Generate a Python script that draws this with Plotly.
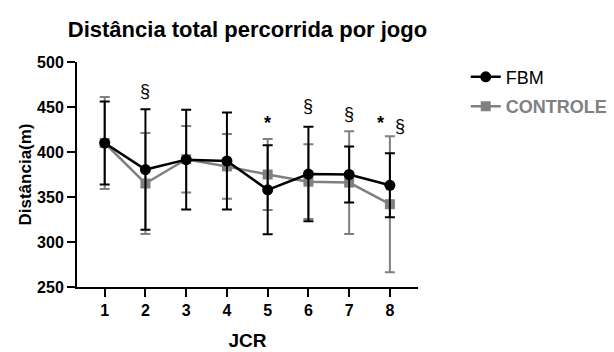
import plotly.graph_objects as go

jcr = [1, 2, 3, 4, 5, 6, 7, 8]
fbm_mean = [410, 380.5, 391.5, 390, 358, 375.5, 375, 363]
fbm_sd = [46, 67, 55.5, 54, 49.5, 52.5, 31, 35.5]
ctrl_mean = [410, 365, 392, 384, 375, 367, 366, 342]
ctrl_sd = [51, 56, 37, 36, 39.5, 41.5, 57, 75.5]
y_ticks = [250, 300, 350, 400, 450, 500]

# significance marks: (x, y, symbol)
marks_x = [2, 5, 6, 7, 7.77, 8.25]
marks_y = [468, 432, 451, 442, 432, 429]
marks_t = ["§", "<b>*</b>", "§", "§", "<b>*</b>", "§"]

FONT = "Liberation Sans, Arial, sans-serif"
GRAY = "#808080"

fig = go.Figure()
fig.add_trace(go.Scatter(
    x=jcr, y=ctrl_mean, mode="lines+markers",
    name='<span style="color:#808080"><b>CONTROLE</b></span>',
    legendgroup="c", legendrank=2,
    line=dict(color=GRAY, width=2.5),
    marker=dict(symbol="square", size=10, color=GRAY),
    error_y=dict(type="data", array=ctrl_sd, visible=True, color=GRAY, thickness=2, width=5),
))
fig.add_trace(go.Scatter(
    x=jcr, y=fbm_mean, mode="lines+markers", name="FBM",
    legendgroup="f", legendrank=1,
    line=dict(color="black", width=2.5),
    marker=dict(symbol="circle", size=11, color="black"),
    error_y=dict(type="data", array=fbm_sd, visible=True, color="black", thickness=2, width=5),
))

for x, y, t in zip(marks_x, marks_y, marks_t):
    fig.add_annotation(x=x, y=y, text=t, showarrow=False, xref="x", yref="y",
                       font=dict(family=FONT, size=18, color="black"))

fig.update_layout(
    width=614, height=352,
    margin=dict(l=77, r=196, t=62, b=65, autoexpand=False),
    paper_bgcolor="white", plot_bgcolor="white",
    font=dict(family=FONT, color="black"),
    title=dict(text="<b>Distância total percorrida por jogo</b>", x=(68 + 427) / 2 / 614, xanchor="center",
               xref="container",
               y=1 - 29 / 352, yanchor="middle", yref="container", font=dict(size=22, family=FONT),
               automargin=False),
    showlegend=True,
    legend=dict(x=1.14, xanchor="left", y=1.015, yanchor="top", traceorder="grouped",
                tracegroupgap=3, font=dict(size=18, family=FONT), bgcolor="rgba(0,0,0,0)"),
)
fig.update_xaxes(
    range=[0.32, 8.69], tickvals=jcr, ticktext=[f"<b>{v}</b>" for v in jcr],
    showgrid=False, zeroline=False, showline=True, linecolor="black", linewidth=2,
    ticks="outside", ticklen=8, tickwidth=2, tickcolor="black",
    tickfont=dict(size=16, family=FONT), automargin=False,
    title=dict(text="<b>JCR</b>", font=dict(size=19, family=FONT), standoff=15),
)
fig.update_yaxes(
    range=[250, 500], tickvals=y_ticks, ticktext=[f"<b>{v}</b>" for v in y_ticks],
    showgrid=False, zeroline=False, showline=True, linecolor="black", linewidth=2,
    ticks="outside", ticklen=8, tickwidth=2, tickcolor="black",
    tickfont=dict(size=16, family=FONT), automargin=False,
    title=dict(text="<b>Distância(m)</b>", font=dict(size=17, family=FONT), standoff=1),
)

fig.write_html("out.html", config={"displayModeBar": False},
               post_script="document.body.style.margin='0';document.body.style.overflow='hidden';")
